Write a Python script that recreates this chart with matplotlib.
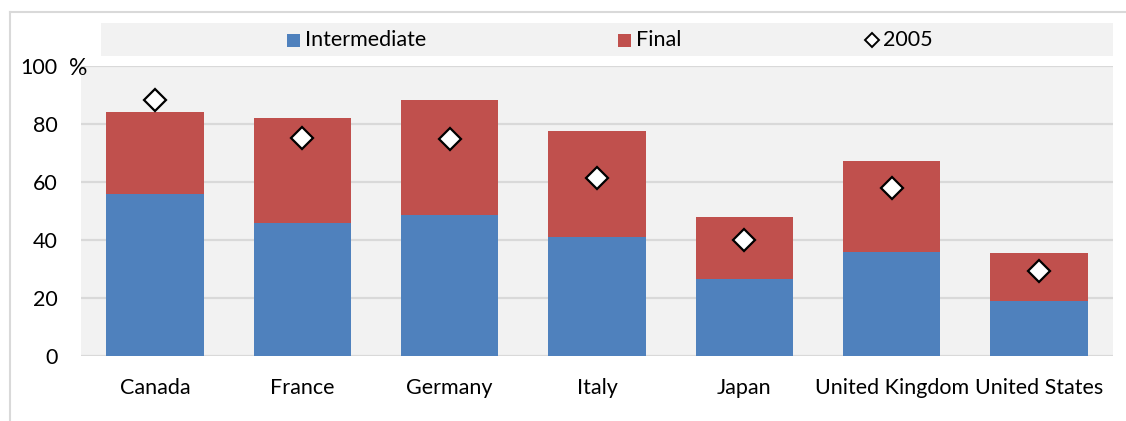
import matplotlib
matplotlib.use("Agg")
import matplotlib.pyplot as plt
from matplotlib.patches import Rectangle
from matplotlib.lines import Line2D

countries = ["Canada", "France", "Germany", "Italy", "Japan",
             "United Kingdom", "United States"]
intermediate = [55.7, 46.0, 48.6, 41.1, 26.4, 35.7, 18.9]
total = [84.2, 82.0, 88.2, 77.6, 48.0, 67.2, 35.4]
final = [t - i for t, i in zip(total, intermediate)]
y2005 = [88.2, 75.3, 75.0, 61.4, 40.0, 57.9, 29.3]
yticks = [0, 20, 40, 60, 80, 100]

BLUE = "#4F81BD"
RED = "#C0504D"
PANEL = "#F2F2F2"
GRID = "#D9D9D9"
FONT = "Lato"
FS = 15.5

W, H = 1126, 421
fig = plt.figure(figsize=(W / 100, H / 100), dpi=100)
fig.patch.set_facecolor("white")

def fx(px):
    return px / W

def fy(py):
    return 1 - py / H

# outer frame (left and top edges visible)
fig.add_artist(Line2D([fx(10), fx(10)], [fy(12), 0], color=GRID, lw=1.5,
                      transform=fig.transFigure))
fig.add_artist(Line2D([fx(10), 1], [fy(12), fy(12)], color=GRID, lw=1.5,
                      transform=fig.transFigure))

# legend band
fig.add_artist(Rectangle((fx(101), fy(56)), fx(1113) - fx(101), fy(23) - fy(56),
                         facecolor=PANEL, edgecolor="none",
                         transform=fig.transFigure))

left, right, top, bottom = 81.4, 1112.6, 66, 356
ax = fig.add_axes([fx(left), fy(bottom), fx(right) - fx(left), fy(top) - fy(bottom)])
ax.set_facecolor(PANEL)

x = list(range(len(countries)))
ax.bar(x, intermediate, width=0.66, color=BLUE, zorder=3, label="Intermediate")
ax.bar(x, final, bottom=intermediate, width=0.66, color=RED, zorder=3, label="Final")
ax.plot(x, y2005, linestyle="none", marker="D", markersize=11.2,
        markerfacecolor="white", markeredgecolor="black", markeredgewidth=1.6,
        zorder=4, label="2005")

ax.set_xlim(-0.5, len(countries) - 0.5)
ax.set_ylim(0, 100)
ax.set_yticks(yticks)
ax.set_yticklabels([str(v) for v in yticks], fontfamily=FONT, fontsize=FS)
ax.set_xticks(x)
ax.set_xticklabels(countries, fontfamily=FONT, fontsize=FS)
ax.tick_params(axis="both", length=0)
ax.tick_params(axis="y", pad=17)
ax.tick_params(axis="x", pad=16)
ax.yaxis.grid(True, color=GRID, linewidth=1.6, zorder=0)
ax.set_axisbelow(True)
for s in ax.spines.values():
    s.set_visible(False)

ax.text(0.0055, 99.3, "%", transform=ax.get_yaxis_transform(),
        ha="right", va="center", fontfamily=FONT, fontsize=FS + 1)

# legend entries
def legend_square(px, color):
    fig.add_artist(Rectangle((fx(px), fy(47)), fx(13), fy(34) - fy(47),
                             facecolor=color, edgecolor="none",
                             transform=fig.transFigure))

legend_square(287, BLUE)
fig.text(fx(305), fy(40.5), "Intermediate", ha="left", va="center",
         fontfamily=FONT, fontsize=FS)
legend_square(618, RED)
fig.text(fx(636), fy(40.5), "Final", ha="left", va="center",
         fontfamily=FONT, fontsize=FS)
fig.add_artist(Line2D([fx(872)], [fy(40)], marker="D", markersize=7,
                      markerfacecolor="white", markeredgecolor="black",
                      markeredgewidth=1.4, transform=fig.transFigure))
fig.text(fx(883), fy(40.5), "2005", ha="left", va="center",
         fontfamily=FONT, fontsize=FS)

fig.savefig("out.png", dpi=100)
